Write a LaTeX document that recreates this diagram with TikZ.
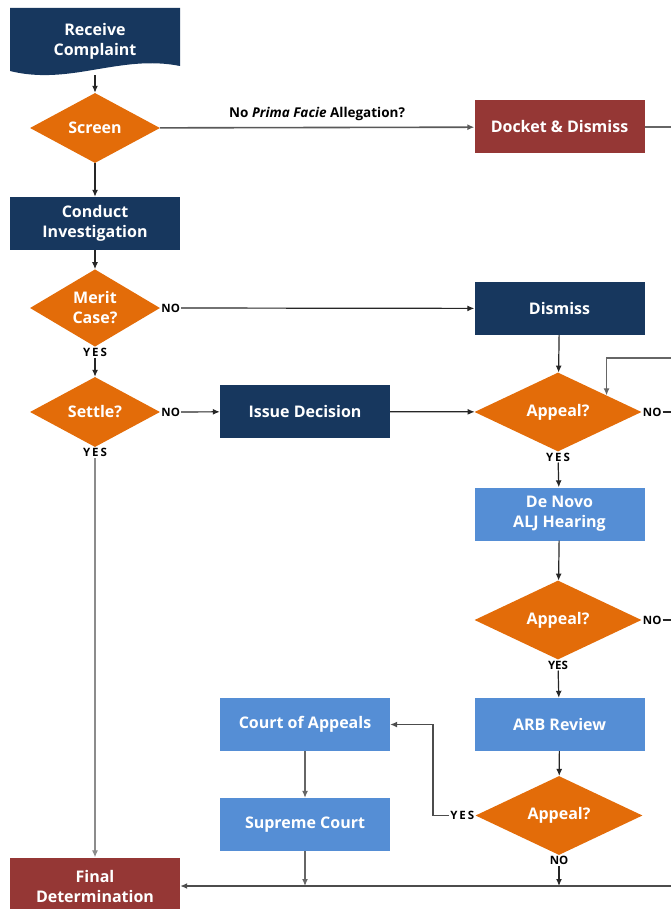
\documentclass[tikz,border=0pt]{standalone}
\usepackage{fontspec}
\setmainfont{Open Sans}
\usetikzlibrary{shapes.geometric,arrows.meta,calc}
\definecolor{navy}{HTML}{17375E}
\definecolor{orng}{HTML}{E36C09}
\definecolor{brick}{HTML}{953735}
\definecolor{sky}{HTML}{558ED5}
\tikzset{
	box/.style={rectangle,minimum width=170pt,minimum height=53pt,inner sep=2pt,text=white,align=center,font=\bfseries\fontsize{16}{20}\selectfont},
	navybox/.style={box,fill=navy},
	redbox/.style={box,fill=brick},
	skybox/.style={box,fill=sky},
	dec/.style={diamond,fill=orng,minimum width=167pt,minimum height=69pt,inner sep=0pt,text=white,align=center,font=\bfseries\fontsize{16}{20}\selectfont},
	lab/.style={inner sep=1pt,font=\bfseries\fontsize{11.5}{13}\selectfont},
	ar/.style={-{Latex[length=7pt,width=6pt]},black!85,line width=1.2pt},
	ln/.style={black!85,line width=1.2pt}
}
\begin{document}
\begin{tikzpicture}[x=1pt,y=-1pt]
		\useasboundingbox (0,0) rectangle (671,909);
		\clip (0,0) rectangle (671,909);
		% left column
		\fill[navy] (10,8)--(180,8)--(180,66) .. controls (120,54) and (70,86) .. (10,71) -- cycle;
		\node[box,minimum height=67pt] (recv) at (95,41.5) {Receive\\Complaint};
		\node[dec,minimum width=130pt,minimum height=70pt] (screen) at (95,128) {Screen};
		\node[navybox] (conduct) at (95,223.5) {Conduct\\Investigation};
		\node[dec,minimum width=130pt,minimum height=70pt] (merit) at (95,308) {Merit\\Case?};
		\node[dec,minimum width=130pt,minimum height=70pt] (settle) at (95,412) {Settle?};
		\node[redbox,minimum height=57pt] (final) at (95,886) {Final\\Determination};
		% middle column
		\node[navybox] (issue) at (305,411.5) {Issue Decision};
		\node[skybox] (court) at (305,724.5) {Court of Appeals};
		\node[skybox] (supreme) at (305,824.5) {Supreme Court};
		% right column
		\node[redbox] (docket) at (559.5,127) {Docket \& Dismiss};
		\node[navybox] (dismiss) at (559.5,308.5) {Dismiss};
		\node[dec] (appeal1) at (558,412) {Appeal?};
		\node[skybox] (denovo) at (559.5,514) {De Novo\\ALJ Hearing};
		\node[dec] (appeal2) at (558,620) {Appeal?};
		\node[skybox] (arb) at (559.5,724.5) {ARB Review};
		\node[dec] (appeal3) at (559,815.5) {Appeal?};
		% off the right edge
		\coordinate (r1) at (680,127);
		\coordinate (r2) at (680,358);
		\coordinate (r3) at (680,412);
		\coordinate (r4) at (680,620);
		\coordinate (r5) at (680,886);
		\coordinate (bend) at (433,815.5);
		% yes / no
		\node[lab,right] (mno) at (merit.east) {NO};
		\node[lab,below] (myes) at (merit.south) {Y\,E\,S};
		\node[lab,right] (sno) at (settle.east) {NO};
		\node[lab,below] (syes) at (settle.south) {Y\,E\,S};
		\node[lab,right] (a1no) at (appeal1.east) {NO};
		\node[lab,below] (a1yes) at (appeal1.south) {Y\,E\,S};
		\node[lab,right] (a2no) at (appeal2.east) {NO};
		\node[lab,below] (a2yes) at (appeal2.south) {YES};
		\node[lab,left] (a3yes) at (appeal3.west) {Y\,E\,S};
		\node[lab,below] (a3no) at (appeal3.south) {NO};
		% connectors
		\draw[ar] (recv) -- (screen);
		\draw[ar,black!65,line width=1.6pt] (screen) -- node[above=3pt,black,font=\fontsize{13.5}{15}\selectfont\bfseries]{No \textit{Prima Facie} Allegation?} (docket);
		\draw[ln,black!60] (docket) -- (r1);
		\draw[ar] (screen) -- (conduct);
		\draw[ar] (conduct) -- (merit);
		\draw[ar] (mno) -- (dismiss);
		\draw[ar] (myes) -- (settle);
		\draw[ar] (sno) -- (issue);
		\draw[ar] (issue) -- (appeal1);
		\draw[ar] (dismiss) -- (appeal1);
		\draw[ar,black!60] (r2) -| ($(appeal1.north)!0.58!(appeal1.east)$);
		\draw[ln] (a1no) -- (r3);
		\draw[ar] (a1yes) -- (denovo);
		\draw[ar] (denovo) -- (appeal2);
		\draw[ln] (a2no) -- (r4);
		\draw[ar] (a2yes) -- (arb);
		\draw[ar] (arb) -- (appeal3);
		\draw[ar,black!70] (a3yes) -- (bend) |- (court);
		\draw[ar,black!60] (court) -- (supreme);
		\draw[ar,black!60] (supreme) -- (supreme |- r5);
		\draw[ar] (a3no) -- (a3no |- r5);
		\draw[ar,black!70,line width=1.6pt] (r5) -- (final);
		\draw[ar,black!45] (syes) -- (final);
	\end{tikzpicture}
\end{document}
